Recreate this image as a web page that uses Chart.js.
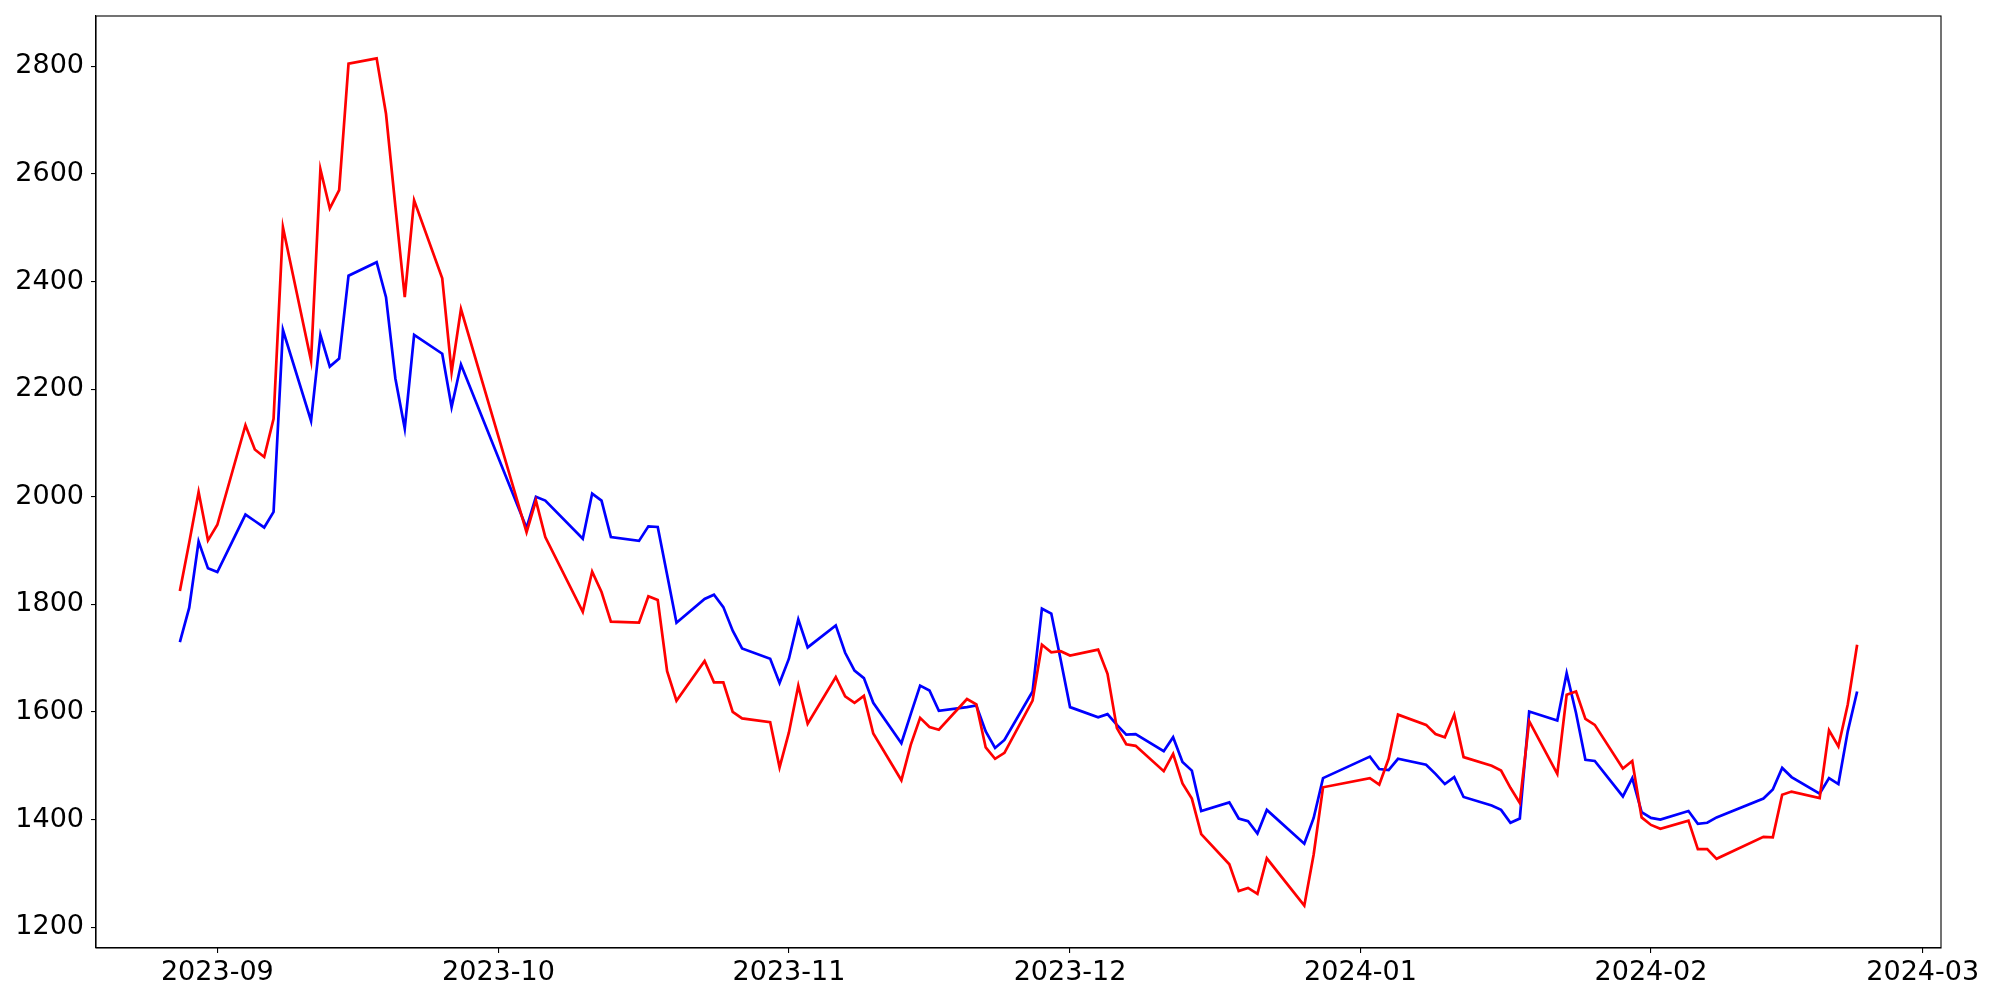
<!DOCTYPE html>
<html><head><meta charset="utf-8">
<script src="https://cdn.jsdelivr.net/npm/chart.js@4.4.0/dist/chart.umd.min.js"></script>
<style>html,body{margin:0;padding:0;background:#fff}canvas{display:block}</style>
</head><body>
<canvas id="c" width="2000" height="1000"></canvas>
<script>
const dates = [
 '2023-08-28','2023-08-29','2023-08-30','2023-08-31','2023-09-01',
 '2023-09-04','2023-09-05','2023-09-06','2023-09-07','2023-09-08',
 '2023-09-11','2023-09-12','2023-09-13','2023-09-14','2023-09-15',
 '2023-09-18','2023-09-19','2023-09-20','2023-09-21','2023-09-22',
 '2023-09-25','2023-09-26','2023-09-27',
 '2023-10-04','2023-10-05','2023-10-06',
 '2023-10-10','2023-10-11','2023-10-12','2023-10-13',
 '2023-10-16','2023-10-17','2023-10-18','2023-10-19','2023-10-20',
 '2023-10-23','2023-10-24','2023-10-25','2023-10-26','2023-10-27',
 '2023-10-30','2023-10-31','2023-11-01','2023-11-02','2023-11-03',
 '2023-11-06','2023-11-07','2023-11-08','2023-11-09','2023-11-10',
 '2023-11-13','2023-11-14','2023-11-15','2023-11-16','2023-11-17',
 '2023-11-20','2023-11-21','2023-11-22','2023-11-23','2023-11-24',
 '2023-11-27','2023-11-28','2023-11-29','2023-11-30','2023-12-01',
 '2023-12-04','2023-12-05','2023-12-06','2023-12-07','2023-12-08',
 '2023-12-11','2023-12-12','2023-12-13','2023-12-14','2023-12-15',
 '2023-12-18','2023-12-19','2023-12-20','2023-12-21','2023-12-22',
 '2023-12-26','2023-12-27','2023-12-28',
 '2024-01-02','2024-01-03','2024-01-04','2024-01-05',
 '2024-01-08','2024-01-09','2024-01-10','2024-01-11','2024-01-12',
 '2024-01-15','2024-01-16','2024-01-17','2024-01-18','2024-01-19',
 '2024-01-22','2024-01-23','2024-01-24','2024-01-25','2024-01-26',
 '2024-01-29','2024-01-30','2024-01-31','2024-02-01','2024-02-02',
 '2024-02-05','2024-02-06','2024-02-07','2024-02-08',
 '2024-02-13','2024-02-14','2024-02-15','2024-02-16',
 '2024-02-19','2024-02-20','2024-02-21','2024-02-22','2024-02-23'
];
const redSeries = [
 1825,1915,2009,1919,1948,
 2133,2088,2074,2145,2501,
 2253,2609,2536,2570,2805,
 2815,2712,2540,2371,2551,
 2406,2232,2349,
 1934,1993,1925,
 1786,1861,1823,1768,
 1766,1815,1808,1676,1621,
 1695,1655,1655,1600,1588,
 1581,1497,1562,1649,1578,
 1665,1629,1617,1630,1560,
 1473,1539,1589,1572,1567,
 1624,1614,1534,1513,1524,
 1621,1725,1711,1713,1705,
 1716,1671,1570,1540,1537,
 1490,1522,1467,1439,1373,
 1317,1267,1273,1262,1328,
 1240,1335,1460,
 1477,1465,1513,1595,
 1576,1559,1553,1595,1516,
 1500,1491,1459,1431,1583,
 1485,1632,1638,1587,1576,
 1495,1509,1404,1390,1383,
 1398,1345,1345,1327,
 1368,1367,1446,1452,
 1440,1566,1536,1614,1725
];
const blueSeries = [
 1730,1794,1917,1867,1860,
 1967,1955,1943,1972,2310,
 2141,2301,2242,2257,2411,
 2436,2371,2220,2127,2301,
 2266,2167,2246,
 1942,2000,1993,
 1922,2006,1993,1925,
 1918,1945,1944,1855,1766,
 1810,1818,1795,1751,1718,
 1699,1654,1699,1772,1720,
 1761,1710,1677,1663,1617,
 1542,1596,1649,1640,1602,
 1609,1612,1564,1533,1548,
 1638,1792,1783,1697,1609,
 1590,1596,1576,1558,1559,
 1527,1553,1507,1491,1416,
 1432,1402,1397,1374,1418,
 1355,1403,1477,
 1517,1494,1492,1513,
 1502,1485,1466,1479,1442,
 1426,1418,1394,1402,1601,
 1584,1672,1598,1511,1509,
 1443,1477,1414,1403,1400,
 1416,1392,1394,1404,
 1439,1456,1496,1479,
 1448,1477,1466,1564,1638
];
const monthTicks = ['2023-09-01','2023-10-01','2023-11-01','2023-12-01','2024-01-01','2024-02-01','2024-03-01'];
const yTicks = [1200,1400,1600,1800,2000,2200,2400,2600,2800];

function toMs(s){const p=s.split('-').map(Number);return Date.UTC(p[0],p[1]-1,p[2]);}
const xs = dates.map(toMs);
const span = xs[xs.length-1]-xs[0];
const allVals = redSeries.concat(blueSeries);
const vmin = Math.min(...allVals), vmax = Math.max(...allVals);
const vspan = vmax - vmin;

const frame = {
  id:'frame',
  afterDraw(chart){
    const a = chart.chartArea, ctx = chart.ctx;
    ctx.save();
    ctx.strokeStyle = '#000';
    ctx.lineWidth = 1.1;
    ctx.strokeRect(a.left, a.top, a.right-a.left, a.bottom-a.top);
    ctx.restore();
  }
};

const FONT = {family:'"DejaVu Sans"', size:27};
function zeroPad(scale){ scale.paddingTop=0; scale.paddingBottom=0; scale.paddingLeft=0; scale.paddingRight=0; }

new Chart(document.getElementById('c'), {
  type:'line',
  data:{
    datasets:[
      {data: xs.map((x,i)=>({x, y: redSeries[i]})), borderColor:'#ff0000', borderWidth:2.7, pointRadius:0, tension:0, fill:false},
      {data: xs.map((x,i)=>({x, y: blueSeries[i]})), borderColor:'#0000ff', borderWidth:2.7, pointRadius:0, tension:0, fill:false}
    ]
  },
  options:{
    responsive:false,
    animation:false,
    devicePixelRatio:1,
    layout:{padding:{top:16,right:59,left:0,bottom:0}},
    plugins:{legend:{display:false}, tooltip:{enabled:false}},
    scales:{
      x:{
        type:'linear',
        min: xs[0]-span*0.05,
        max: xs[xs.length-1]+span*0.05,
        afterBuildTicks(axis){ axis.ticks = monthTicks.map(s=>({value: toMs(s)})); },
        afterFit(scale){ scale.height = 52; zeroPad(scale); },
        grid:{display:true, drawOnChartArea:false, drawTicks:true, tickLength:5, color:'#000', lineWidth:1.1},
        border:{display:true, color:'#000', width:1.1},
        ticks:{
          font:FONT, color:'#000', padding:4, maxRotation:0, autoSkip:false,
          callback(v){ const d=new Date(v); return d.getUTCFullYear()+'-'+String(d.getUTCMonth()+1).padStart(2,'0'); }
        }
      },
      y:{
        type:'linear',
        min: vmin - vspan*0.05,
        max: vmax + vspan*0.05,
        afterBuildTicks(axis){ axis.ticks = yTicks.map(v=>({value:v})); },
        afterFit(scale){ scale.width = 96; zeroPad(scale); },
        grid:{display:true, drawOnChartArea:false, drawTicks:true, tickLength:5, color:'#000', lineWidth:1.1},
        border:{display:true, color:'#000', width:1.1},
        ticks:{font:FONT, color:'#000', padding:7, callback(v){ return String(v); }}
      }
    }
  },
  plugins:[frame]
});
</script>
</body></html>
